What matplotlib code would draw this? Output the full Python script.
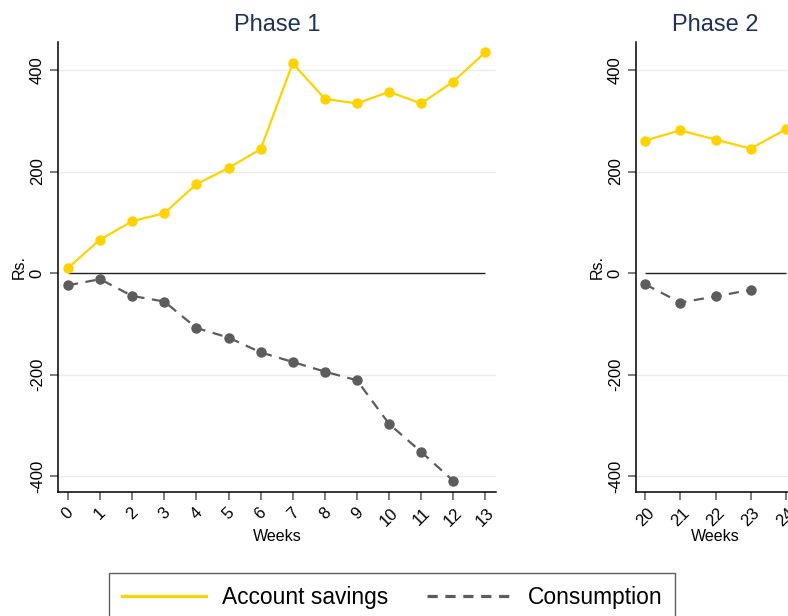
import numpy as np
import matplotlib.pyplot as plt

plt.rcParams['font.family'] = ['Liberation Sans', 'DejaVu Sans']

# phase 1 data
weeks1 = [0, 1, 2, 3, 4, 5, 6, 7, 8, 9, 10, 11, 12, 13]
savings1 = [10, 66, 102, 118, 175, 207, 244, 413, 343, 334, 357, 334, 377, 435]
weeks1_c = [0, 1, 2, 3, 4, 5, 6, 7, 8, 9, 10, 11, 12]
consumption1 = [-24, -12, -45, -56, -108, -127, -156, -175, -194, -211, -297, -352, -409]

# phase 2 data
weeks2 = [20, 21, 22, 23, 24]
savings2 = [261, 281, 263, 245, 283]
weeks2_c = [20, 21, 22, 23]
consumption2 = [-22, -58, -46, -33]

yticks = [-400, -200, 0, 200, 400]

gold = '#FFD200'
grey = '#5c5c5c'
title_col = '#1f3158'

W, H = 788, 616
fig = plt.figure(figsize=(W / 100, H / 100), dpi=100)

def px_axes(x0, x1, y0, y1):
  # pixel box (left, right, top, bottom) -> figure coords
  return fig.add_axes([x0 / W, 1 - y1 / H, (x1 - x0) / W, (y1 - y0) / H])

ax1 = px_axes(58, 496, 42, 492)
ax2 = px_axes(636, 795, 42, 492)

panels = [
  (ax1, 'Phase 1', weeks1, savings1, weeks1_c, consumption1, (-0.31, 13.33)),
  (ax2, 'Phase 2', weeks2, savings2, weeks2_c, consumption2, (19.74, 24.26)),
]

for ax, title, wk, sv, wkc, cons, xl in panels:
  for y in yticks:
    if y != 0:
      ax.axhline(y, color='#ececec', lw=1, zorder=0)
  ax.hlines(0, wk[0], wk[-1], color='#222222', lw=1, zorder=1)
  ax.plot(wk, sv, color=gold, lw=1.6, marker='o', ms=6.5, zorder=3,
          label='Account savings')
  ax.plot(wkc, cons, color=grey, lw=1.6, marker='o', ms=6.5, zorder=3,
          dashes=(4.6, 3.4), label='Consumption')
  ax.set_xlim(*xl)
  ax.set_ylim(-431, 455)
  ax.set_xticks(wk)
  ax.set_xticklabels([str(w) for w in wk], rotation=45, fontsize=12)
  ax.set_yticks(yticks)
  ax.set_yticklabels([str(y) for y in yticks], rotation=90, va='center', fontsize=12)
  ax.tick_params(axis='both', color='#666666', length=6, width=1.2)
  for s in ['top', 'right']:
    ax.spines[s].set_visible(False)
  ax.spines['left'].set_linewidth(1.1)
  ax.spines['bottom'].set_linewidth(1.1)
  ax.set_title(title, fontsize=17, color=title_col, pad=8)
  ax.set_xlabel('Weeks', fontsize=11.5, labelpad=0)
  ax.set_ylabel('Rs.', fontsize=11.5, labelpad=2)

handles, labels = ax1.get_legend_handles_labels()
leg = fig.legend(handles, labels, loc='upper center', ncol=2,
                 bbox_to_anchor=(392 / W, 1 - 573 / H), fontsize=16.4,
                 frameon=True, fancybox=False, edgecolor='#333333',
                 handlelength=3.7, handletextpad=0.7, columnspacing=1.7,
                 borderpad=0.55, borderaxespad=0)
leg.get_frame().set_linewidth(1.0)
for h in leg.legend_handles:
  h.set_marker('')
  h.set_linewidth(2.3)
leg.legend_handles[1].set_dashes((3.2, 2.4))

fig.savefig('out.png', dpi=100)
